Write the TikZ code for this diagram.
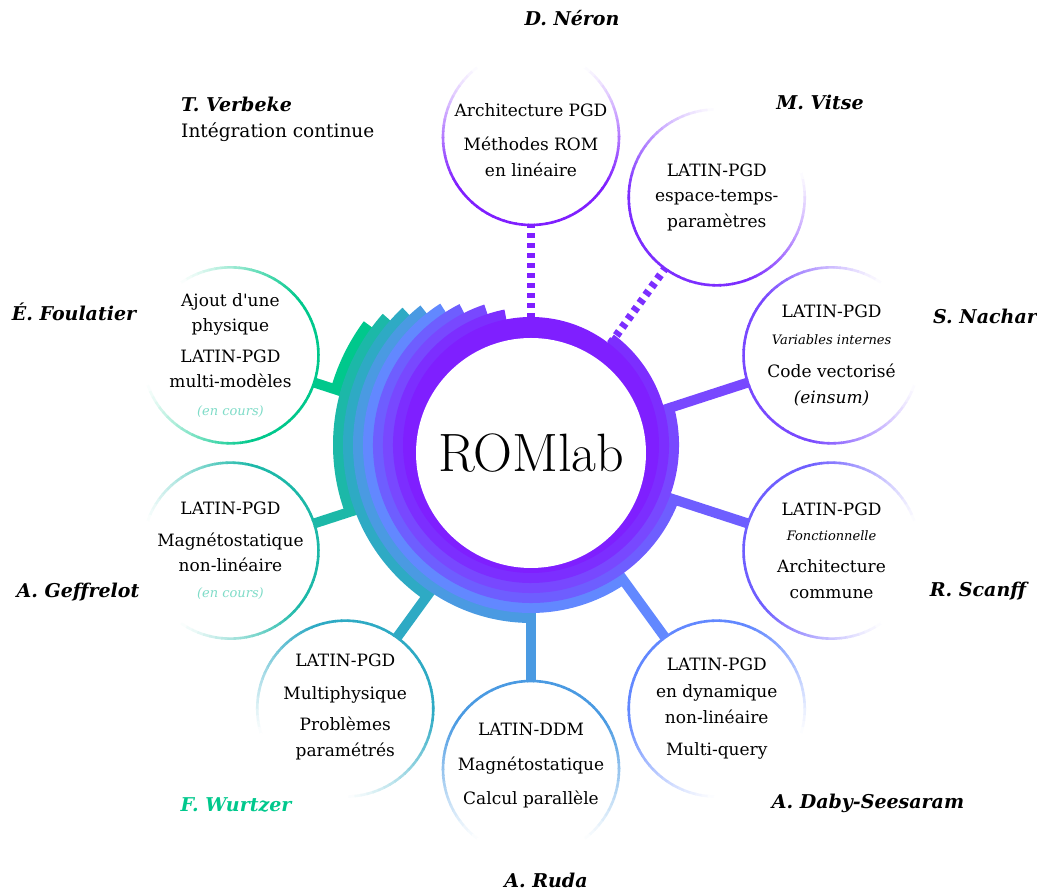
\documentclass[tikz,border=0pt]{standalone}
\usepackage{fontspec}
\newfontfamily\dv{DejaVu Serif}
\usetikzlibrary{calc}
\pgfdeclarelayer{back}
\pgfdeclarelayer{mid}
\pgfsetlayers{back,mid,main}
\definecolor{L0}{HTML}{7F1FFF}
\definecolor{L1}{HTML}{7C2EFF}
\definecolor{L2}{HTML}{7848FF}
\definecolor{L3}{HTML}{6E5EFF}
\definecolor{L4}{HTML}{6288FF}
\definecolor{L5}{HTML}{4A9AE2}
\definecolor{L6}{HTML}{2EAAC4}
\definecolor{L7}{HTML}{1CB8A8}
\definecolor{L8}{HTML}{00C88C}
\definecolor{enc}{HTML}{7FDCC8}
\tikzset{
  member/.style={circle, minimum size=176pt, inner sep=0pt, fill=white},
  body/.style={align=center, font=\dv\fontsize{17}{25.5}\selectfont, inner sep=0pt},
  who/.style={font=\dv\fontsize{19}{23}\selectfont\bfseries\itshape, inner sep=0pt},
  conn/.style={line width=10pt},
  dconn/.style={line width=8pt, dash pattern=on 5pt off 5pt},
}
\newcommand\smit[1]{{\fontsize{13}{16}\selectfont\itshape #1}}
\newcommand\fadering[3]{%
  \foreach \a in {0,4,...,356}{
    \pgfmathtruncatemacro\p{max(0,min(100,60+75*cos(\a+2-#3)))}
    \draw[line width=2.6pt, color=#2!\p!white] ($(#1)+(\a:88pt)$) arc[start angle=\a, end angle=\a+4.6, radius=88pt];
  }}
\begin{document}
\begin{tikzpicture}[x=1pt,y=1pt]
\useasboundingbox (0,0) rectangle (1037,893);
\coordinate (C) at (531,440);
\coordinate (P) at (531,448);
% central node
\node[circle, fill=white, minimum size=230pt, inner sep=0pt, font=\fontsize{54}{56}\selectfont] (rom) at (C) {ROMlab};
% member circles
\node[member] (neron) at ($(C)+(90:316pt)$) {};
\node[member] (vitse) at ($(C)+(54:316pt)$) {};
\node[member] (nachar) at ($(C)+(18:316pt)$) {};
\node[member] (scanff) at ($(C)+(-18:316pt)$) {};
\node[member] (daby) at ($(C)+(-54:316pt)$) {};
\node[member] (ruda) at ($(C)+(-90:316pt)$) {};
\node[member] (wurtzer) at ($(C)+(-126:316pt)$) {};
\node[member] (geffrelot) at ($(C)+(-162:316pt)$) {};
\node[member] (foulatier) at ($(C)+(162:316pt)$) {};
% faded outlines
\fadering{neron}{L0}{270}
\fadering{vitse}{L1}{234}
\fadering{nachar}{L2}{198}
\fadering{scanff}{L3}{162}
\fadering{daby}{L4}{126}
\fadering{ruda}{L5}{90}
\fadering{wurtzer}{L6}{54}
\fadering{geffrelot}{L7}{18}
\fadering{foulatier}{L8}{-18}
% texts
\node[body] (neron-t) at ($(neron)+(0,-3)$) {Architecture PGD\\[9pt]Méthodes ROM\\en linéaire};
\node[body] (vitse-t) at (vitse) {LATIN-PGD\\espace-temps-\\paramètres};
\node[body] (nachar-t) at (nachar) {LATIN-PGD\\[1.5pt]\smit{Variables internes}\\[7.5pt]Code vectorisé\\\textit{(einsum)}};
\node[body] (scanff-t) at (scanff) {LATIN-PGD\\\smit{Fonctionnelle}\\[6.5pt]Architecture\\commune};
\node[body] (daby-t) at (daby) {LATIN-PGD\\[1.5pt]en dynamique\\non-linéaire\\[6.5pt]Multi-query};
\node[body] (ruda-t) at ($(ruda)+(0,3)$) {LATIN-DDM\\[9pt]Magnétostatique\\[9pt]Calcul parallèle};
\node[body] (wurtzer-t) at ($(wurtzer)+(0,1.5)$) {LATIN-PGD\\[7.5pt]Multiphysique\\[5.5pt]Problèmes\\paramétrés};
\node[body] (geffrelot-t) at (geffrelot) {LATIN-PGD\\[6.5pt]Magnétostatique\\non-linéaire\\\smit{\textcolor{enc}{(en cours)}}};
\node[body] (foulatier-t) at (foulatier) {Ajout d'une\\physique\\[5pt]LATIN-PGD\\multi-modèles\\[2pt]\smit{\textcolor{enc}{(en cours)}}};
% names
\node[who] (neron-n) at (572,875) {D. Néron};
\node[who] (vitse-n) at (820,791) {M. Vitse};
\node[who] (nachar-n) at (985,577) {S. Nachar};
\node[who] (scanff-n) at (978,302) {R. Scanff};
\node[who] (daby-n) at (868,90) {A. Daby-Seesaram};
\node[who] (ruda-n) at (546,13) {A. Ruda};
\node[who, text=L8] (wurtzer-n) at (236,88) {F. Wurtzer};
\node[who] (geffrelot-n) at (78,301) {A. Geffrelot};
\node[who] (foulatier-n) at (74,581) {É. Foulatier};
\node[who, anchor=west] (verbeke-n) at (181,789) {T. Verbeke};
\node[anchor=west, inner sep=0pt, font=\dv\fontsize{18.5}{22}\selectfont] (verbeke-t) at (181,761) {Intégration continue};
% connectors
\begin{pgfonlayer}{back}
\draw[dconn, L0] (rom) -- (neron);
\draw[dconn, L1] (rom) -- (vitse);
\draw[conn, L2] (rom) -- (nachar);
\draw[conn, L3] (rom) -- (scanff);
\draw[conn, L4] (rom) -- (daby);
\draw[conn, L5] (rom) -- (ruda);
\draw[conn, L6] (rom) -- (wurtzer);
\draw[conn, L7] (rom) -- (geffrelot);
\draw[conn, L8] (rom) -- (foulatier);
\end{pgfonlayer}
% spiral of layers (centred on P)
\begin{pgfonlayer}{mid}
\foreach \k/\t/\e/\r in {8/143.5/163.4/208, 7/138.5/199.4/198, 6/133.1/234.8/188, 5/128.4/270/178, 4/122.7/305.2/168, 3/116.9/340.6/158, 2/108.4/376.6/148, 1/101.1/413.1/138}{
  \fill[L\k] (P) -- ($(P)+(\t:\r pt)$) arc[start angle=\t, end angle=\e, radius=\r pt] -- cycle;
}
\fill[L0] (P) circle[radius=128pt];
\end{pgfonlayer}
\end{tikzpicture}
\end{document}
